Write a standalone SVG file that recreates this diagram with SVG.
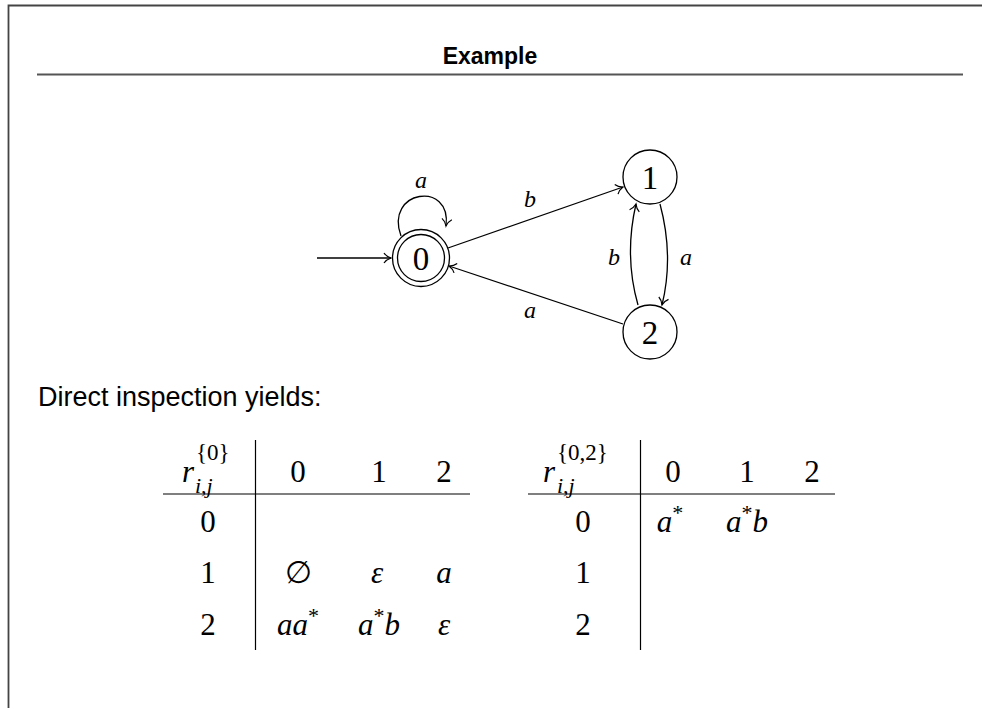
<svg xmlns="http://www.w3.org/2000/svg" width="982" height="708" viewBox="0 0 982 708">
<style>
.frame{stroke:#444;stroke-width:1.8;fill:none}
.rule{stroke:#555;stroke-width:2;fill:none}
.edge{stroke:#000;stroke-width:1.3;fill:none}
.node{stroke:#000;stroke-width:1.3;fill:#fff}
.sans{font-family:"Liberation Sans",Arial,sans-serif;fill:#000}
.num{font-family:"Liberation Serif","DejaVu Serif",serif;font-size:31px;fill:#000;text-anchor:middle}
.nl{font-family:"Liberation Serif","DejaVu Serif",serif;font-size:33px;fill:#000;text-anchor:middle}
.sup{font-family:"Liberation Serif","DejaVu Serif",serif;font-size:23px;fill:#000;text-anchor:start}
.it{font-family:"Liberation Serif","DejaVu Serif",serif;font-style:italic;fill:#000}
.lbl{font-size:24px;text-anchor:middle}
.cell{font-size:31px;text-anchor:middle}
.sc{font-size:22px}
.tl{stroke:#000;stroke-width:1.2}
</style>
<defs>
<marker id="to" viewBox="-9 -6 11 12" refX="0" refY="0" markerWidth="11" markerHeight="12" markerUnits="userSpaceOnUse" orient="auto">
<path d="M -7 -5 C -5 -2 -1.5 -0.5 0 0 C -1.5 0.5 -5 2 -7 5" fill="none" stroke="#000" stroke-width="1.2"/>
</marker>
</defs>
<rect width="982" height="708" fill="#fff"/>
<path class="frame" d="M 8.5 708 L 8.5 5.5 L 982 5.5"/>
<text class="sans" x="490" y="64" font-size="23" font-weight="bold" text-anchor="middle">Example</text>
<line class="rule" x1="37" y1="74.5" x2="963" y2="74.5"/>

<g id="connectors">
<line class="edge" x1="317" y1="258" x2="391" y2="258" marker-end="url(#to)"/>
<path class="edge" d="M 401 236 C 384 190 452 180 446 226" marker-end="url(#to)"/>
<line class="edge" x1="448" y1="248" x2="623" y2="187" marker-end="url(#to)"/>
<line class="edge" x1="623" y1="324" x2="449" y2="266" marker-end="url(#to)"/>
<path class="edge" d="M 660 204 Q 674 256 662 305" marker-end="url(#to)"/>
<path class="edge" d="M 638 305 Q 624 256 636 204" marker-end="url(#to)"/>
<text class="it lbl" x="421" y="188">a</text>
<text class="it lbl" x="530" y="207">b</text>
<text class="it lbl" x="530" y="318">a</text>
<text class="it lbl" x="614" y="265">b</text>
<text class="it lbl" x="686" y="265">a</text>
</g>

<g id="node0">
<circle class="node" cx="421" cy="258" r="28.5"/>
<circle class="node" cx="421" cy="258" r="23.5"/>
<text class="nl" x="421" y="270">0</text>
</g>
<g id="node1">
<circle class="node" cx="650" cy="177" r="27"/>
<text class="nl" x="650" y="189">1</text>
</g>
<g id="node2">
<circle class="node" cx="650" cy="332" r="27"/>
<text class="nl" x="650" y="344">2</text>
</g>

<text class="sans" x="38" y="406" font-size="27">Direct inspection yields:</text>

<g id="table1">
<line class="tl" x1="255.5" y1="440" x2="255.5" y2="650"/>
<line class="tl" x1="163" y1="494" x2="470" y2="494"/>
<text class="it" x="182" y="482" font-size="31">r</text>
<text class="sup" x="196" y="460">{0}</text>
<text class="it sc" x="195" y="493">i,j</text>
<text class="num" x="298" y="482">0</text>
<text class="num" x="379" y="482">1</text>
<text class="num" x="444" y="482">2</text>
<text class="num" x="208" y="532">0</text>
<text class="num" x="208" y="583">1</text>
<text class="num" x="208" y="635">2</text>
<text class="num" x="298" y="583">∅</text>
<text class="it cell" x="377" y="583">ε</text>
<text class="it cell" x="444" y="583">a</text>
<text class="it cell" x="298" y="635">aa<tspan font-style="normal" font-size="22" dy="-12">*</tspan></text>
<text class="it cell" x="379" y="635">a<tspan font-style="normal" font-size="22" dy="-12">*</tspan><tspan dy="12">b</tspan></text>
<text class="it cell" x="444" y="635">ε</text>
</g>

<g id="table2">
<line class="tl" x1="640.5" y1="440" x2="640.5" y2="650"/>
<line class="tl" x1="528" y1="494" x2="835" y2="494"/>
<text class="it" x="543" y="482" font-size="31">r</text>
<text class="sup" x="557" y="460">{0,2}</text>
<text class="it sc" x="557" y="493">i,j</text>
<text class="num" x="673" y="482">0</text>
<text class="num" x="747" y="482">1</text>
<text class="num" x="812" y="482">2</text>
<text class="num" x="583" y="532">0</text>
<text class="num" x="583" y="583">1</text>
<text class="num" x="583" y="635">2</text>
<text class="it cell" x="670" y="532">a<tspan font-style="normal" font-size="22" dy="-12">*</tspan></text>
<text class="it cell" x="747" y="532">a<tspan font-style="normal" font-size="22" dy="-12">*</tspan><tspan dy="12">b</tspan></text>
</g>
</svg>
